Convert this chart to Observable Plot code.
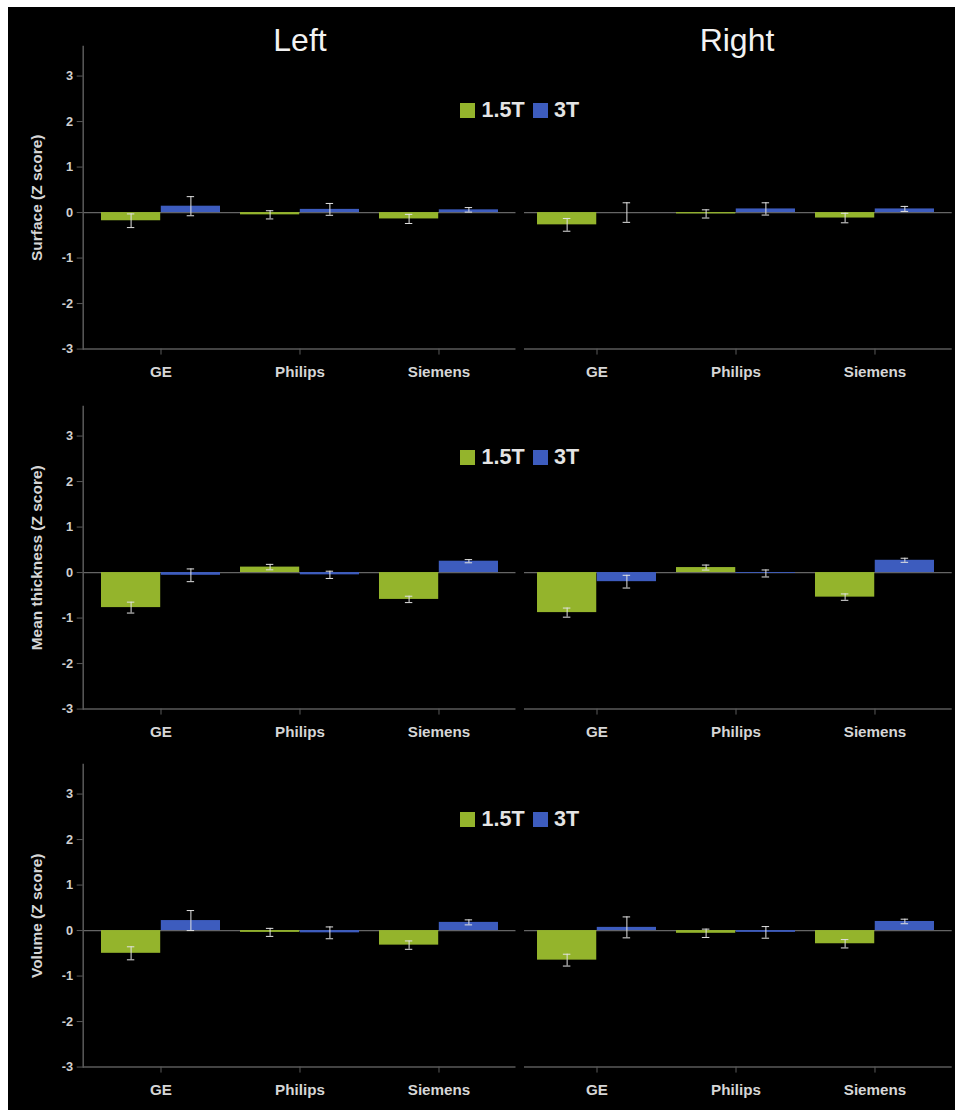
<!DOCTYPE html>
<html>
<head>
<meta charset="utf-8">
<script src="https://cdn.jsdelivr.net/npm/d3@7"></script>
<script src="https://cdn.jsdelivr.net/npm/@observablehq/plot@0.6"></script>
<style>
  html, body { margin: 0; padding: 0; background: #fff; width: 955px; height: 1110px; overflow: hidden; }
  #bg { position: absolute; left: 8px; top: 7px; width: 947px; height: 1103px; background: #000; }
  .pnl { position: absolute; }
  .pnl svg text { font-weight: bold; }
  .title { position: absolute; font: 32px/32px "Liberation Sans", Arial, sans-serif; color: #f2f2f2; text-align: center; width: 300px; }
  .lg { position: absolute; font: bold 21.5px/21.5px "Liberation Sans", Arial, sans-serif; color: #e4e4e4; white-space: nowrap; }
  .sw { position: absolute; width: 15px; height: 15px; }
</style>
</head>
<body>
<div id="bg"></div>
<script>
// ---- data ----
const scanners = ["GE", "Philips", "Siemens"];
const fields = ["1.5T", "3T"];
const sides = ["Left", "Right"];
const measures = ["Surface (Z score)", "Mean thickness (Z score)", "Volume (Z score)"];
const yTicks = [-3, -2, -1, 0, 1, 2, 3];

// order: GE 1.5T, GE 3T, Philips 1.5T, Philips 3T, Siemens 1.5T, Siemens 3T
const surfaceLeftMean   = [-0.18, 0.14, -0.05, 0.07, -0.14, 0.06];
const surfaceLeftErr    = [0.15, 0.21, 0.09, 0.13, 0.10, 0.05];
const surfaceRightMean  = [-0.27, 0.00, -0.03, 0.08, -0.12, 0.08];
const surfaceRightErr   = [0.14, 0.215, 0.09, 0.135, 0.105, 0.055];
const thicknessLeftMean = [-0.77, -0.06, 0.12, -0.05, -0.59, 0.25];
const thicknessLeftErr  = [0.12, 0.14, 0.06, 0.08, 0.07, 0.035];
const thicknessRightMean= [-0.88, -0.20, 0.11, -0.02, -0.54, 0.27];
const thicknessRightErr = [0.10, 0.14, 0.055, 0.077, 0.07, 0.045];
const volumeLeftMean    = [-0.50, 0.22, -0.04, -0.05, -0.32, 0.18];
const volumeLeftErr     = [0.143, 0.22, 0.088, 0.13, 0.092, 0.055];
const volumeRightMean   = [-0.65, 0.07, -0.06, -0.04, -0.29, 0.20];
const volumeRightErr    = [0.13, 0.23, 0.092, 0.128, 0.092, 0.05];

// ---- styling ----
const colors = {"1.5T": "#94b42c", "3T": "#3d5cbe"};
const axisGray = "#5a5a5a";
const errColor = "#e2e2e2";
const font = '"Liberation Sans", Arial, sans-serif';

const unit = 45.5;             // px per z unit
const yDomain = [-3, 3.65];
const frameH = (yDomain[1] - yDomain[0]) * unit;
const zeroYs = [212, 572, 930.3];
const padInner = 0.143;

const layouts = {
  Left:  {left: 0,   width: 520, ml: 82.7, mr: 4.5, insL: 17.6, insR: 16.5},
  Right: {left: 520, width: 435, ml: 4,    mr: 3.3, insL: 12.3, insR: 17}
};

function rowsOf(mean, err) {
  const rows = [];
  scanners.forEach((s, i) => fields.forEach((f, j) => {
    const k = i * 2 + j;
    rows.push({scanner: s, field: f, value: mean[k], err: err[k]});
  }));
  return rows;
}

function panel(mean, err, side, measureIdx) {
  const L = layouts[side];
  const frameW = L.width - L.ml - L.mr;
  const step = (frameW - L.insL - L.insR) / (scanners.length - padInner);
  const bw = step * (1 - padInner);
  const half = bw / 2, q = bw / 4;
  const rows = rowsOf(mean, err);
  const g = rows.filter(d => d.field === "1.5T");
  const b = rows.filter(d => d.field === "3T");
  const frameTop = zeroYs[measureIdx] - yDomain[1] * unit;
  const mt = 40, mb = 42;
  const marks = [
    Plot.ruleY([0], {stroke: "#656565", strokeWidth: 1.2}),
    Plot.ruleY([-3], {stroke: axisGray, strokeWidth: 1.5}),
    Plot.barY(g, {x: "scanner", y1: 0, y2: "value", fill: colors["1.5T"], insetRight: half}),
    Plot.barY(b, {x: "scanner", y1: 0, y2: "value", fill: colors["3T"], insetLeft: half}),
  ];
  for (const [data, dx] of [[g, -q], [b, q]]) {
    marks.push(Plot.ruleX(data, {x: "scanner", y1: d => d.value - d.err, y2: d => d.value + d.err, dx, stroke: errColor, strokeWidth: 1}));
    marks.push(Plot.tickY(data, {x: "scanner", y: d => d.value - d.err, dx, insetLeft: half - 4, insetRight: half - 4, stroke: errColor, strokeWidth: 1}));
    marks.push(Plot.tickY(data, {x: "scanner", y: d => d.value + d.err, dx, insetLeft: half - 4, insetRight: half - 4, stroke: errColor, strokeWidth: 1}));
  }
  marks.push(Plot.axisX({anchor: "bottom", tickSize: 6, tickPadding: 11, fontSize: 15.2, stroke: axisGray, fill: "#d6d6d6", label: null}));
  if (side === "Left") {
    marks.push(Plot.frame({anchor: "left", stroke: axisGray, strokeWidth: 1.5}));
    marks.push(Plot.axisY({ticks: yTicks, tickFormat: d => String(d), tickSize: 6, tickPadding: 4, fontSize: 12.8, stroke: axisGray, fill: "#d0d0d0", label: null}));
    marks.push(Plot.text([measures[measureIdx]], {frameAnchor: "left", textAnchor: "middle", text: d => d, rotate: -90, dx: -46, fontSize: 15.5, fontWeight: "bold", fill: "#d6d6d6"}));
  }
  const svg = Plot.plot({
    width: L.width,
    height: mt + frameH + mb,
    marginLeft: L.ml, marginRight: L.mr, marginTop: mt, marginBottom: mb,
    style: {background: "transparent", color: "#d6d6d6", fontFamily: font},
    x: {domain: scanners, paddingInner: padInner, paddingOuter: 0, align: 0.5, insetLeft: L.insL, insetRight: L.insR, axis: null},
    y: {domain: yDomain, axis: null},
    marks
  });
  const wrap = document.createElement("div");
  wrap.className = "pnl";
  wrap.style.left = L.left + "px";
  wrap.style.top = (frameTop - mt) + "px";
  wrap.appendChild(svg);
  document.body.appendChild(wrap);
}

const meansBy = [[surfaceLeftMean, surfaceRightMean], [thicknessLeftMean, thicknessRightMean], [volumeLeftMean, volumeRightMean]];
const errsBy  = [[surfaceLeftErr, surfaceRightErr], [thicknessLeftErr, thicknessRightErr], [volumeLeftErr, volumeRightErr]];
for (let m = 0; m < 3; m++) {
  sides.forEach((s, si) => panel(meansBy[m][si], errsBy[m][si], s, m));
}

// titles
const titleCenters = {Left: 300, Right: 737};
sides.forEach(s => {
  const t = document.createElement("div");
  t.className = "title";
  t.textContent = s;
  t.style.left = (titleCenters[s] - 150) + "px";
  t.style.top = "24px";
  document.body.appendChild(t);
});

// legends
const legendTops = [102.7, 449.5, 811.7];
const legendItems = [
  {field: "1.5T", sw: 460, tx: 481.5},
  {field: "3T", sw: 533.3, tx: 554}
];
legendTops.forEach(top => {
  legendItems.forEach(it => {
    const sq = document.createElement("div");
    sq.className = "sw";
    sq.style.left = it.sw + "px"; sq.style.top = top + "px";
    sq.style.background = colors[it.field];
    document.body.appendChild(sq);
    const tx = document.createElement("div");
    tx.className = "lg";
    tx.textContent = it.field;
    tx.style.left = it.tx + "px"; tx.style.top = (top - 2.8) + "px";
    document.body.appendChild(tx);
  });
});
</script>
</body>
</html>
